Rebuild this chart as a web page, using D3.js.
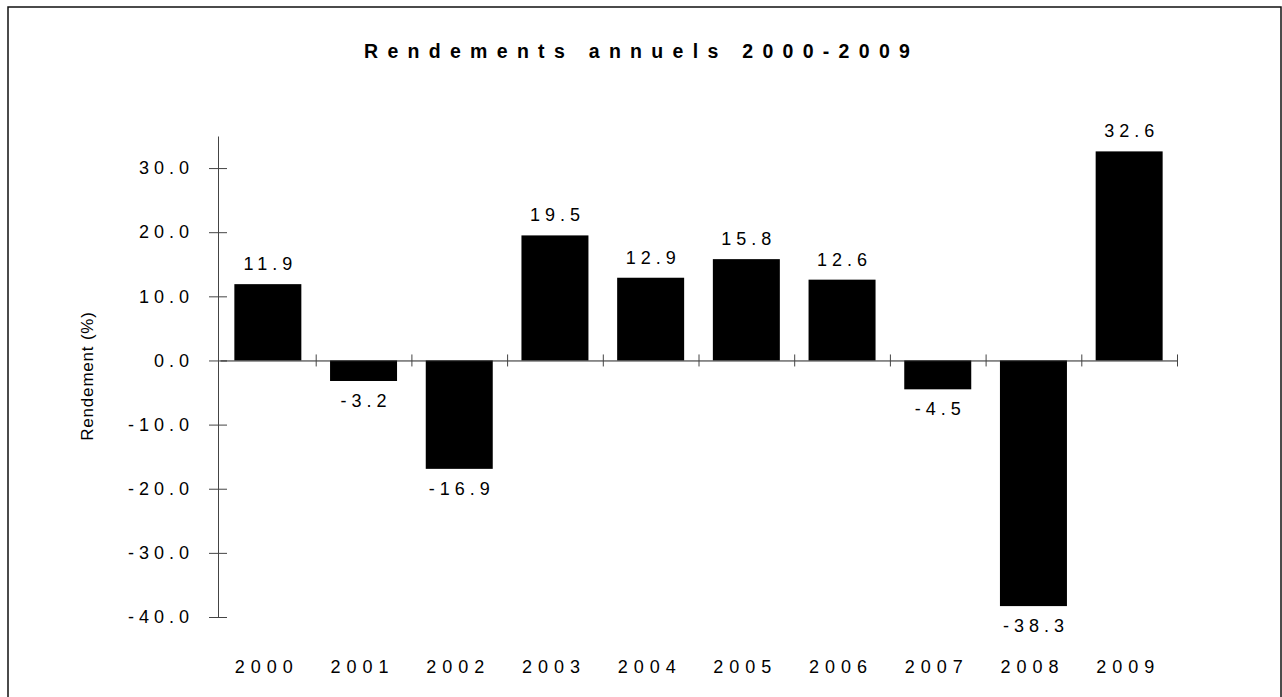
<!DOCTYPE html>
<head>
  <meta charset="utf-8">
  <title>Rendements annuels 2000-2009</title>
  <script type="text/javascript" src="https://d3js.org/d3.v7.min.js"></script>
  <style>
    body { margin: 0; background: #fff; }
    text { font-family: "Liberation Sans", Arial, sans-serif; fill: #000; }
  </style>
</head>
<body>
<script>
  // data
  var years = ["2000", "2001", "2002", "2003", "2004", "2005", "2006", "2007", "2008", "2009"];
  var rendements = [11.9, -3.2, -16.9, 19.5, 12.9, 15.8, 12.6, -4.5, -38.3, 32.6];
  var yTicks = [-40, -30, -20, -10, 0, 10, 20, 30];

  var width = 1282, height = 697;
  var svg = d3.select("body").append("svg")
    .attr("width", width)
    .attr("height", height);

  // outer frame
  svg.append("rect")
    .attr("x", 8).attr("y", 7)
    .attr("width", 1273).attr("height", 720)
    .attr("fill", "none")
    .attr("stroke", "#111")
    .attr("stroke-width", 1.5);

  var x = d3.scaleBand().domain(years).range([220, 1177]).paddingInner(0.3).paddingOuter(0.15);
  var xEdge = d3.scaleLinear().domain([0, years.length]).range([220, 1177]);
  var y = d3.scaleLinear().domain([-40, 35]).range([617, 136]);

  // title
  svg.append("text")
    .attr("x", 364).attr("y", 58)
    .attr("font-size", 19.5)
    .attr("font-weight", "bold")
    .attr("letter-spacing", 9.3)
    .text("Rendements annuels 2000-2009");

  // y axis
  var gy = svg.append("g")
    .attr("transform", "translate(218,0)")
    .call(d3.axisLeft(y).tickValues(yTicks).tickSize(9).tickSizeOuter(0).tickPadding(15)
      .tickFormat(function(d) { return d.toFixed(1); }));
  gy.select(".domain").attr("stroke", "#444");
  gy.selectAll(".tick line").attr("x1", 9).attr("stroke", "#444");
  gy.selectAll(".tick text")
    .attr("font-size", 18)
    .attr("font-family", null)
    .attr("letter-spacing", 5);

  svg.append("text")
    .attr("transform", "translate(93,376) rotate(-90)")
    .attr("text-anchor", "middle")
    .attr("font-size", 17)
    .attr("letter-spacing", 0.8)
    .text("Rendement (%)");

  // bars
  svg.append("g").selectAll("rect")
    .data(rendements)
    .enter().append("rect")
    .attr("x", function(d, i) { return x(years[i]); })
    .attr("y", function(d) { return y(Math.max(0, d)); })
    .attr("width", x.bandwidth())
    .attr("height", function(d) { return Math.abs(y(d) - y(0)); })
    .attr("fill", "#000");

  // zero line with boundary ticks
  var gx = svg.append("g")
    .attr("transform", "translate(0," + y(0) + ")")
    .call(d3.axisBottom(xEdge).tickValues(d3.range(1, years.length + 1)).tickSize(6).tickSizeOuter(0)
      .tickFormat(""));
  gx.select(".domain").attr("stroke", "#222");
  gx.selectAll(".tick line").attr("y1", -6).attr("stroke", "#444");

  // value labels
  svg.append("g").selectAll("text")
    .data(rendements)
    .enter().append("text")
    .attr("x", function(d, i) { return x(years[i]) + x.bandwidth() / 2 + 2.5; })
    .attr("y", function(d) { return d >= 0 ? y(d) - 14 : y(d) + 26; })
    .attr("text-anchor", "middle")
    .attr("font-size", 18)
    .attr("letter-spacing", 5)
    .text(function(d) { return d.toFixed(1); });

  // category labels
  var gl = svg.append("g")
    .attr("transform", "translate(0,673)")
    .call(d3.axisBottom(x).tickSize(0).tickPadding(0));
  gl.select(".domain").remove();
  gl.selectAll(".tick text")
    .attr("dy", 0)
    .attr("dx", -1)
    .attr("font-size", 18)
    .attr("font-family", null)
    .attr("letter-spacing", 6);
</script>
</body>
